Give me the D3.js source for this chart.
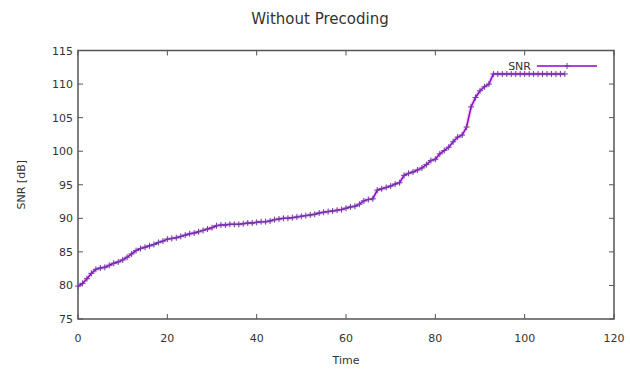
<!DOCTYPE html>
<html><head><meta charset="utf-8">
<script src="https://cdn.jsdelivr.net/npm/d3@7"></script>
<style>body{margin:0;background:#fff}svg{display:block}</style>
</head><body>
<svg id="c" width="630" height="370"></svg>
<script>
const title = "Without Precoding";
const xLabel = "Time";
const yLabel = "SNR [dB]";
const seriesName = "SNR";
const xTicks = [0, 20, 40, 60, 80, 100, 120];
const yTicks = [75, 80, 85, 90, 95, 100, 105, 110, 115];
const snr = [
 79.9, 80.3, 81.0, 81.8, 82.4, 82.6, 82.7, 83.0, 83.3, 83.5,
 83.8, 84.2, 84.7, 85.2, 85.5, 85.7, 85.9, 86.1, 86.4, 86.6,
 86.9, 87.0, 87.1, 87.3, 87.5, 87.7, 87.8, 88.0, 88.2, 88.4,
 88.6, 88.9, 89.0, 89.0, 89.1, 89.1, 89.1, 89.2, 89.3, 89.3,
 89.4, 89.5, 89.5, 89.6, 89.8, 89.9, 90.0, 90.0, 90.1, 90.2,
 90.3, 90.4, 90.5, 90.6, 90.8, 90.9, 91.0, 91.1, 91.2, 91.3,
 91.5, 91.7, 91.8, 92.1, 92.6, 92.8, 92.9, 94.2, 94.4, 94.6,
 94.8, 95.1, 95.3, 96.4, 96.7, 96.9, 97.2, 97.5, 98.0, 98.6,
 98.8, 99.6, 100.1, 100.6, 101.4, 102.1, 102.4, 103.6, 106.6, 108.0,
 109.0, 109.6, 110.0, 111.5, 111.5, 111.5, 111.5, 111.5, 111.5, 111.5,
 111.5, 111.5, 111.5, 111.5, 111.5, 111.5, 111.5, 111.5, 111.5, 111.5
];
const time = snr.map((d, i) => i);

const L = 78, R = 614, T = 50.5, B = 319;
const svg = d3.select("#c");
const x = d3.scaleLinear().domain([0, 120]).range([L, R]);
const y = d3.scaleLinear().domain([75, 115]).range([B, T]);
const font = "DejaVu Sans, sans-serif";
const axisCol = "#555";
const lineCol = "#9400D3";

// ticks (inward, mirrored)
const tk = 5;
const g = svg.append("g");
xTicks.forEach(v => {
  g.append("line").attr("x1", x(v)).attr("x2", x(v)).attr("y1", B).attr("y2", B - tk).attr("stroke", axisCol).attr("stroke-width", 1);
  g.append("line").attr("x1", x(v)).attr("x2", x(v)).attr("y1", T).attr("y2", T + tk).attr("stroke", axisCol).attr("stroke-width", 1);
  g.append("text").attr("x", x(v)).attr("y", B + 23).attr("text-anchor", "middle")
    .attr("font-family", font).attr("font-size", 11).attr("fill", "#333").text(v);
});
yTicks.forEach(v => {
  g.append("line").attr("x1", L).attr("x2", L + tk).attr("y1", y(v)).attr("y2", y(v)).attr("stroke", axisCol).attr("stroke-width", 1);
  g.append("line").attr("x1", R).attr("x2", R - tk).attr("y1", y(v)).attr("y2", y(v)).attr("stroke", axisCol).attr("stroke-width", 1);
  g.append("text").attr("x", L - 5).attr("y", y(v) + 4).attr("text-anchor", "end")
    .attr("font-family", font).attr("font-size", 11).attr("fill", "#333").text(v);
});
// border
svg.append("rect").attr("x", L).attr("y", T).attr("width", R - L).attr("height", B - T)
  .attr("fill", "none").attr("stroke", axisCol).attr("stroke-width", 1.5);

// line with faint halo
const line = d3.line().x((d, i) => x(time[i])).y(d => y(d));
svg.append("path").datum(snr).attr("d", line).attr("fill", "none")
  .attr("stroke", "#e8a8f0").attr("stroke-width", 4).attr("stroke-opacity", 0.5);
svg.append("path").datum(snr).attr("d", line).attr("fill", "none")
  .attr("stroke", lineCol).attr("stroke-width", 1.5);
// points (+)
const ps = 3;
svg.append("g").selectAll("path.pt").data(snr).join("path")
  .attr("d", (d, i) => `M${x(time[i]) - ps},${y(d)}h${2 * ps}M${x(time[i])},${y(d) - ps}v${2 * ps}`)
  .attr("stroke", "#6a3fa0").attr("stroke-width", 1);

// legend
const ly = 66;
svg.append("text").attr("x", 531).attr("y", ly + 4).attr("text-anchor", "end")
  .attr("font-family", font).attr("font-size", 11).attr("fill", "#333").text(seriesName);
svg.append("line").attr("x1", 537).attr("x2", 597).attr("y1", ly).attr("y2", ly)
  .attr("stroke", lineCol).attr("stroke-width", 1.5);
svg.append("path").attr("d", `M${567 - ps},${ly}h${2 * ps}M567,${ly - ps}v${2 * ps}`)
  .attr("stroke", "#6a3fa0").attr("stroke-width", 1);

// titles
svg.append("text").attr("x", 320).attr("y", 24).attr("text-anchor", "middle")
  .attr("font-family", font).attr("font-size", 15).attr("fill", "#333").text(title);
svg.append("text").attr("x", (L + R) / 2).attr("y", 364).attr("text-anchor", "middle")
  .attr("font-family", font).attr("font-size", 11).attr("fill", "#333").text(xLabel);
svg.append("text").attr("transform", `translate(25,${(T + B) / 2}) rotate(-90)`).attr("text-anchor", "middle")
  .attr("font-family", font).attr("font-size", 11).attr("fill", "#333").text(yLabel);
</script>
</body></html>
